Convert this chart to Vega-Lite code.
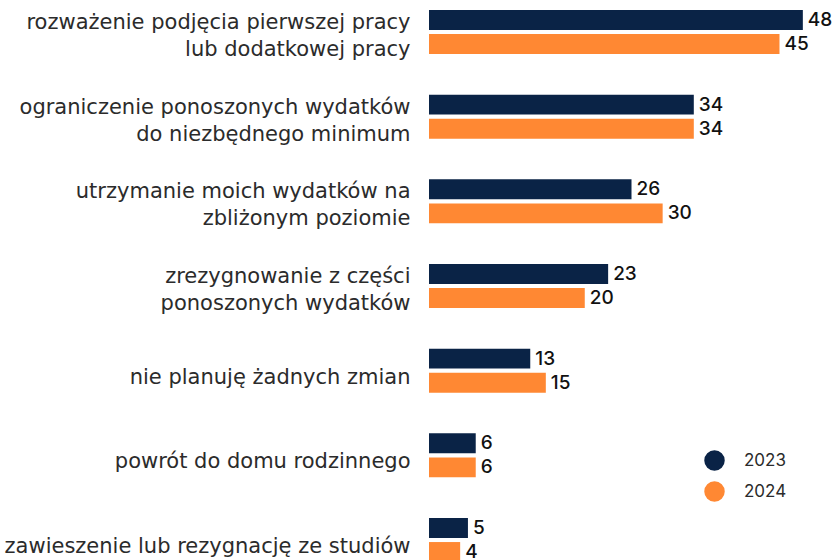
{
  "$schema": "https://vega.github.io/schema/vega-lite/v6.json",
  "width": 405,
  "height": 550,
  "autosize": {"type": "none"},
  "padding": {"left": 429, "top": 10, "right": 2, "bottom": 0},
  "background": "white",
  "config": {"view": {"stroke": null}, "font": "DejaVu Sans"},
  "data": {
    "values": [
      {"cat": "rozważenie podjęcia pierwszej pracy|lub dodatkowej pracy", "year": "2023", "value": 48},
      {"cat": "rozważenie podjęcia pierwszej pracy|lub dodatkowej pracy", "year": "2024", "value": 45},
      {"cat": "ograniczenie ponoszonych wydatków|do niezbędnego minimum", "year": "2023", "value": 34},
      {"cat": "ograniczenie ponoszonych wydatków|do niezbędnego minimum", "year": "2024", "value": 34},
      {"cat": "utrzymanie moich wydatków na|zbliżonym poziomie", "year": "2023", "value": 26},
      {"cat": "utrzymanie moich wydatków na|zbliżonym poziomie", "year": "2024", "value": 30},
      {"cat": "zrezygnowanie z części|ponoszonych wydatków", "year": "2023", "value": 23},
      {"cat": "zrezygnowanie z części|ponoszonych wydatków", "year": "2024", "value": 20},
      {"cat": "nie planuję żadnych zmian", "year": "2023", "value": 13},
      {"cat": "nie planuję żadnych zmian", "year": "2024", "value": 15},
      {"cat": "powrót do domu rodzinnego", "year": "2023", "value": 6},
      {"cat": "powrót do domu rodzinnego", "year": "2024", "value": 6},
      {"cat": "zawieszenie lub rezygnację ze studiów", "year": "2023", "value": 5},
      {"cat": "zawieszenie lub rezygnację ze studiów", "year": "2024", "value": 4}
    ]
  },
  "encoding": {
    "y": {
      "field": "cat",
      "type": "nominal",
      "sort": null,
      "scale": {"range": [0, 552], "paddingInner": 0.4803, "paddingOuter": 0},
      "axis": {
        "title": null,
        "domain": false,
        "ticks": false,
        "labelExpr": "split(datum.label, '|')",
        "labelFontSize": 21,
        "labelColor": "#2b2b2b",
        "labelPadding": 19,
        "labelLineHeight": 27,
        "labelLimit": 500,
        "labelFont": "DejaVu Sans",
        "labelOffset": {"condition": {"test": "indexof(datum.value, '|') >= 0", "value": -9}, "value": 7}
      }
    },
    "yOffset": {
      "field": "year",
      "type": "nominal",
      "scale": {"paddingInner": 0.17, "paddingOuter": 0}
    },
    "x": {
      "field": "value",
      "type": "quantitative",
      "scale": {"domain": [0, 52], "nice": false},
      "axis": null
    }
  },
  "layer": [
    {
      "mark": {"type": "bar"},
      "encoding": {
        "color": {
          "field": "year",
          "type": "nominal",
          "scale": {"domain": ["2023", "2024"], "range": ["#0a2346", "#ff8833"]},
          "legend": {
            "title": null,
            "orient": "none",
            "legendX": 275,
            "legendY": 440,
            "symbolType": "circle",
            "symbolSize": 420,
            "symbolStrokeWidth": 0,
            "labelFontSize": 17,
            "labelColor": "#2b2b2b",
            "labelOffset": 19,
            "rowPadding": 10,
            "labelFont": "Inter"
          }
        }
      }
    },
    {
      "mark": {"type": "text", "align": "left", "baseline": "middle", "dx": 5, "fontSize": 19, "fontWeight": 500, "font": "Inter", "color": "#111111"},
      "encoding": {
        "text": {"field": "value", "type": "quantitative"}
      }
    }
  ]
}
